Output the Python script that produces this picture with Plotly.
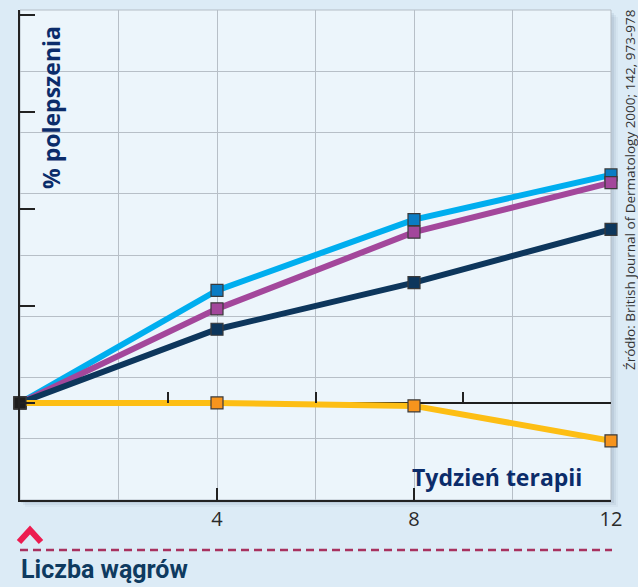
import plotly.graph_objects as go
import numpy as np

# Weeks of therapy and improvement (%) for four treatment arms
weeks = [0, 4, 8, 12]
arm_cyan = [0, 11.6, 18.9, 23.5]
arm_magenta = [0, 9.7, 17.6, 22.7]
arm_navy = [0, 7.6, 12.4, 17.9]
arm_yellow = [0, 0, -0.3, -3.9]

x_labels = ["4", "8", "12"]
x_label_vals = [4, 8, 12]

W, H = 638, 587
ML, MR, MT, MB = 20, 27, 10, 87
Y_RANGE = [-10, 40.5]
X_RANGE = [0, 12]

def px(x, y):
    """Pixel position -> paper coordinates."""
    pw = W - ML - MR
    ph = H - MT - MB
    return (x - ML) / pw, (H - MB - y) / ph

series = [
    ("cyan", arm_cyan, "#00AEEF", "#0A7CC4"),
    ("magenta", arm_magenta, "#A3479B", "#A3479B"),
    ("navy", arm_navy, "#0D365C", "#0D365C"),
    ("yellow", arm_yellow, "#FDBE14", "#F7941D"),
]

fig = go.Figure()
for name, vals, line_c, mark_c in series:
    fig.add_trace(go.Scatter(
        x=weeks, y=vals, mode="lines+markers", name=name,
        line=dict(color=line_c, width=6),
        marker=dict(symbol="square", size=12,
                    color=["#1E1E1E"] + [mark_c] * (len(vals) - 1),
                    line=dict(color="#3A3A3A", width=1.2)),
        cliponaxis=False, showlegend=False, hoverinfo="skip",
    ))

grid_c = "#B7BFC7"
fig.update_layout(
    width=W, height=H,
    margin=dict(l=ML, r=MR, t=MT, b=MB, pad=0),
    paper_bgcolor="#DCEBF6",
    plot_bgcolor="rgba(0,0,0,0)",
    xaxis=dict(range=X_RANGE, tickvals=list(range(0, 13, 2)), showgrid=True,
               gridcolor=grid_c, gridwidth=1, showticklabels=False, ticks="",
               showline=False, zeroline=False),
    yaxis=dict(range=Y_RANGE, tickvals=list(np.linspace(Y_RANGE[0], Y_RANGE[1], 9)),
               showgrid=True, gridcolor=grid_c, gridwidth=1, showticklabels=False,
               ticks="", showline=False, zeroline=True, zerolinecolor="#1E1E1E",
               zerolinewidth=2),
    xaxis2=dict(range=X_RANGE, overlaying="x", anchor="y", side="bottom",
                tickvals=x_label_vals, ticktext=x_labels, ticks="inside",
                ticklen=12, tickwidth=2, tickcolor="#222", showline=True,
                linecolor="#222", linewidth=2, showgrid=False, zeroline=False,
                tickfont=dict(family="Liberation Sans Narrow, Open Sans", size=20,
                              color="#2A2A2A")),
    xaxis3=dict(range=X_RANGE, overlaying="x", anchor="free",
                position=(0 - Y_RANGE[0]) / (Y_RANGE[1] - Y_RANGE[0]),
                side="bottom", tickvals=[3, 6, 9, 12], ticks="inside", ticklen=11,
                tickwidth=2, tickcolor="#222", showticklabels=False,
                showline=False, showgrid=False, zeroline=False),
    yaxis2=dict(range=Y_RANGE, overlaying="y", anchor="x", side="left",
                tickvals=[-10, 0, 10, 20, 30, 40], ticks="inside", ticklen=15,
                tickwidth=2, tickcolor="#222", showticklabels=False,
                showline=True, linecolor="#222", linewidth=2, showgrid=False,
                zeroline=False),
)

# invisible traces so the overlay axes are drawn
for xa, ya in [("x2", "y2"), ("x3", "y2")]:
    fig.add_trace(go.Scatter(x=[None], y=[None], xaxis=xa, yaxis=ya,
                             showlegend=False, hoverinfo="skip"))

shapes = []
# soft drop shadow under the plot panel
for off, alpha in [(7, 0.04), (5, 0.06), (3, 0.08)]:
    s0x, s0y = px(20 + off - 2, 500 + off)
    s1x, s1y = px(611 + off, 10 + off)
    shapes.append(dict(type="rect", xref="paper", yref="paper", x0=s0x, x1=s1x,
                       y0=s0y, y1=s1y, line=dict(width=0),
                       fillcolor=f"rgba(40,70,100,{alpha})", layer="below"))
# plot panel with light frame
shapes.append(dict(type="rect", xref="paper", yref="paper", x0=0, x1=1, y0=0, y1=1,
                   line=dict(color="#B4BDC6", width=1), fillcolor="#ECF5FB",
                   layer="below"))
# chevron marker
ax, ay = px(19, 542)
bx, by = px(30, 530)
cx, cy = px(41, 542)
shapes.append(dict(type="path", xref="paper", yref="paper",
                   path=f"M {ax},{ay} L {bx},{by} L {cx},{cy}",
                   line=dict(color="#EC1C50", width=6)))
# dashed separator
dx0, dy = px(20, 550)
dx1, _ = px(612, 550)
shapes.append(dict(type="line", xref="paper", yref="paper", x0=dx0, x1=dx1,
                   y0=dy, y1=dy, line=dict(color="#A8325F", width=2.5, dash="8px,5px")))
fig.update_layout(shapes=shapes)

title_font = dict(family="Open Sans", size=23, color="#0B2C6A")
ya_x, ya_y = px(51, 108)
tx, ty = px(497, 477)
sx, sy = px(630, 190)
lx, ly = px(19, 569)
fig.update_layout(annotations=[
    dict(text="<b>% polepszenia</b>", xref="paper", yref="paper", x=ya_x, y=ya_y,
         textangle=-90, showarrow=False, font=title_font,
         xanchor="center", yanchor="middle"),
    dict(text="<b>Tydzień terapii</b>", xref="paper", yref="paper", x=tx, y=ty,
         showarrow=False, font=title_font, xanchor="center", yanchor="middle"),
    dict(text="Źródło: British Journal of Dermatology 2000; 142, 973-978",
         xref="paper", yref="paper", x=sx, y=sy, textangle=-90, showarrow=False,
         font=dict(family="Open Sans", size=13.5, color="#333333"),
         xanchor="center", yanchor="middle"),
    dict(text="<b>Liczba wągrów</b>", xref="paper", yref="paper", x=lx, y=ly,
         showarrow=False, xanchor="left", yanchor="middle",
         font=dict(family="Liberation Sans Narrow, Roboto", size=25, color="#0E3A60")),
])

fig.write_html("out.html")
